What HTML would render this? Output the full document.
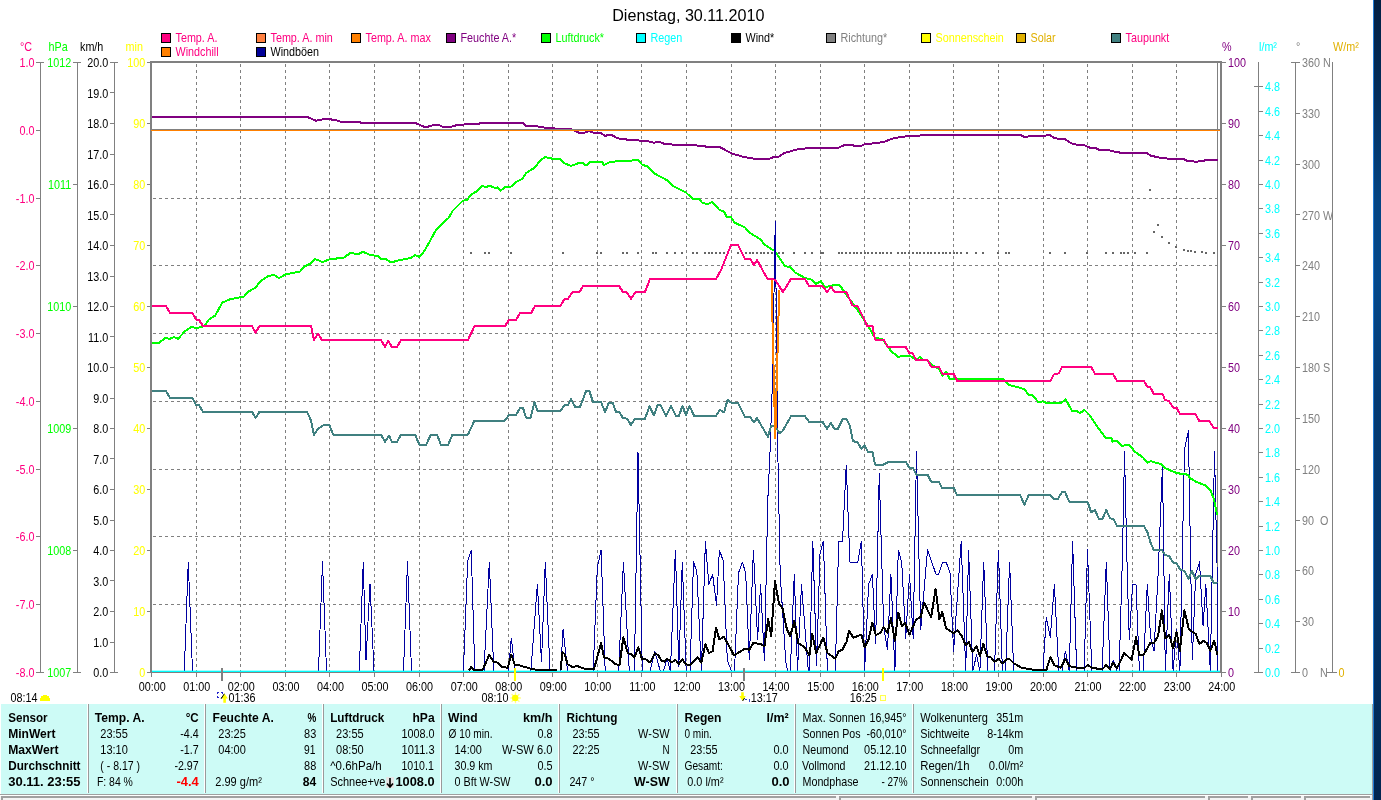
<!DOCTYPE html>
<html lang="de"><head><meta charset="utf-8"><title>Dienstag, 30.11.2010</title>
<style>html,body{margin:0;padding:0;background:#fff;overflow:hidden}svg{display:block;font-family:"Liberation Sans",sans-serif}text{white-space:pre}</style></head>
<body>
<svg width="1381" height="800" viewBox="0 0 1381 800" font-family="'Liberation Sans', sans-serif" font-size="13">
<defs><linearGradient id="deskv" x1="0" y1="0" x2="0" y2="1"><stop offset="0" stop-color="#021f42"/><stop offset="0.12" stop-color="#032e5c"/><stop offset="0.25" stop-color="#044482"/><stop offset="0.35" stop-color="#04488a"/><stop offset="0.5" stop-color="#043a72"/><stop offset="0.75" stop-color="#03356a"/><stop offset="1" stop-color="#02254f"/></linearGradient></defs>
<rect width="1381" height="800" fill="#fff"/>
<rect x="1373" y="0" width="8" height="800" fill="url(#deskv)" shape-rendering="crispEdges"/>
<rect x="1373" y="0" width="1" height="800" fill="#1f7ad4" shape-rendering="crispEdges"/>
<text x="612.2" y="21" fill="#000" font-size="16" textLength="152.3" lengthAdjust="spacingAndGlyphs">Dienstag, 30.11.2010</text>
<g shape-rendering="crispEdges" stroke="#000" stroke-width="1">
<rect x="161.5" y="33.5" width="9" height="9" fill="#ff0080"/>
<rect x="256.5" y="33.5" width="9" height="9" fill="#ff8040"/>
<rect x="351.5" y="33.5" width="9" height="9" fill="#ff8000"/>
<rect x="446.5" y="33.5" width="9" height="9" fill="#800080"/>
<rect x="541.5" y="33.5" width="9" height="9" fill="#00ff00"/>
<rect x="636.5" y="33.5" width="9" height="9" fill="#00ffff"/>
<rect x="731.5" y="33.5" width="9" height="9" fill="#000"/>
<rect x="826.5" y="33.5" width="9" height="9" fill="#808080"/>
<rect x="921.5" y="33.5" width="9" height="9" fill="#ffff00"/>
<rect x="1016.5" y="33.5" width="9" height="9" fill="#e0b000"/>
<rect x="1111.5" y="33.5" width="9" height="9" fill="#408080"/>
<rect x="161.5" y="47.5" width="9" height="9" fill="#ff8000"/>
<rect x="256.5" y="47.5" width="9" height="9" fill="#000098"/>
</g>
<text transform="translate(175.5 42) scale(0.83 1)" fill="#ff0080" font-size="13">Temp. A.</text>
<text transform="translate(270.5 42) scale(0.83 1)" fill="#ff0080" font-size="13">Temp. A. min</text>
<text transform="translate(365.5 42) scale(0.83 1)" fill="#ff0080" font-size="13">Temp. A. max</text>
<text transform="translate(460.5 42) scale(0.83 1)" fill="#800080" font-size="13">Feuchte A.*</text>
<text transform="translate(555.5 42) scale(0.83 1)" fill="#00ff00" font-size="13">Luftdruck*</text>
<text transform="translate(650.5 42) scale(0.83 1)" fill="#00ffff" font-size="13">Regen</text>
<text transform="translate(745.5 42) scale(0.83 1)" fill="#000" font-size="13">Wind*</text>
<text transform="translate(840.5 42) scale(0.83 1)" fill="#808080" font-size="13">Richtung*</text>
<text transform="translate(935.5 42) scale(0.83 1)" fill="#ffff00" font-size="13">Sonnenschein</text>
<text transform="translate(1030.5 42) scale(0.83 1)" fill="#e0b000" font-size="13">Solar</text>
<text transform="translate(1125.5 42) scale(0.83 1)" fill="#ff0080" font-size="13">Taupunkt</text>
<text transform="translate(175.5 56) scale(0.83 1)" fill="#ff0080" font-size="13">Windchill</text>
<text transform="translate(270.5 56) scale(0.83 1)" fill="#000" font-size="13">Windböen</text>
<g shape-rendering="crispEdges" stroke="#808080" stroke-width="1" stroke-dasharray="3,3" fill="none">
<path d="M196.5 64V671"/>
<path d="M240.5 64V671"/>
<path d="M285.5 64V671"/>
<path d="M329.5 64V671"/>
<path d="M374.5 64V671"/>
<path d="M419.5 64V671"/>
<path d="M463.5 64V671"/>
<path d="M508.5 64V671"/>
<path d="M552.5 64V671"/>
<path d="M597.5 64V671"/>
<path d="M641.5 64V671"/>
<path d="M686.5 64V671"/>
<path d="M731.5 64V671"/>
<path d="M775.5 64V671"/>
<path d="M820.5 64V671"/>
<path d="M864.5 64V671"/>
<path d="M909.5 64V671"/>
<path d="M953.5 64V671"/>
<path d="M998.5 64V671"/>
<path d="M1043.5 64V671"/>
<path d="M1087.5 64V671"/>
<path d="M1132.5 64V671"/>
<path d="M1176.5 64V671"/>
<path d="M153 198.5H1218"/>
<path d="M153 265.5H1218"/>
<path d="M153 333.5H1218"/>
<path d="M153 401.5H1218"/>
<path d="M153 469.5H1218"/>
<path d="M153 536.5H1218"/>
<path d="M153 604.5H1218"/>
<path d="M153 672.5H1218"/>
</g>
<g shape-rendering="crispEdges" stroke="#808080" stroke-width="1" fill="none">
<path d="M40.5 62V672"/>
<path d="M36.0 62.5H44.0M36.0 672.5H44.0"/>
<path d="M77.5 62V672"/>
<path d="M73.0 62.5H81.0M73.0 672.5H81.0"/>
<path d="M114.5 62V672"/>
<path d="M110.0 62.5H118.0M110.0 672.5H118.0"/>
<path d="M36 130.5H40"/>
<path d="M36 198.5H40"/>
<path d="M36 265.5H40"/>
<path d="M36 333.5H40"/>
<path d="M36 401.5H40"/>
<path d="M36 469.5H40"/>
<path d="M36 536.5H40"/>
<path d="M36 604.5H40"/>
<path d="M73 184.5H77"/>
<path d="M73 306.5H77"/>
<path d="M73 428.5H77"/>
<path d="M73 550.5H77"/>
<path d="M110 92.5H114"/>
<path d="M110 123.5H114"/>
<path d="M110 154.5H114"/>
<path d="M110 184.5H114"/>
<path d="M110 214.5H114"/>
<path d="M110 245.5H114"/>
<path d="M110 276.5H114"/>
<path d="M110 306.5H114"/>
<path d="M110 336.5H114"/>
<path d="M110 367.5H114"/>
<path d="M110 398.5H114"/>
<path d="M110 428.5H114"/>
<path d="M110 458.5H114"/>
<path d="M110 489.5H114"/>
<path d="M110 520.5H114"/>
<path d="M110 550.5H114"/>
<path d="M110 580.5H114"/>
<path d="M110 611.5H114"/>
<path d="M110 642.5H114"/>
<path d="M147 62.5H151"/>
<path d="M147 123.5H151"/>
<path d="M147 184.5H151"/>
<path d="M147 245.5H151"/>
<path d="M147 306.5H151"/>
<path d="M147 367.5H151"/>
<path d="M147 428.5H151"/>
<path d="M147 489.5H151"/>
<path d="M147 550.5H151"/>
<path d="M147 611.5H151"/>
<path d="M147 672.5H151"/>
<path d="M151.5 673V677"/>
<path d="M196.5 673V677"/>
<path d="M240.5 673V677"/>
<path d="M285.5 673V677"/>
<path d="M329.5 673V677"/>
<path d="M374.5 673V677"/>
<path d="M419.5 673V677"/>
<path d="M463.5 673V677"/>
<path d="M508.5 673V677"/>
<path d="M552.5 673V677"/>
<path d="M597.5 673V677"/>
<path d="M641.5 673V677"/>
<path d="M686.5 673V677"/>
<path d="M731.5 673V677"/>
<path d="M775.5 673V677"/>
<path d="M820.5 673V677"/>
<path d="M864.5 673V677"/>
<path d="M909.5 673V677"/>
<path d="M953.5 673V677"/>
<path d="M998.5 673V677"/>
<path d="M1043.5 673V677"/>
<path d="M1087.5 673V677"/>
<path d="M1132.5 673V677"/>
<path d="M1176.5 673V677"/>
<path d="M1221.5 673V677"/>
</g>
<text transform="translate(20 51) scale(0.83 1)" fill="#ff0080" font-size="13">°C</text>
<text transform="translate(48.5 51) scale(0.83 1)" fill="#00ff00" font-size="13">hPa</text>
<text transform="translate(80 51) scale(0.83 1)" fill="#000" font-size="13">km/h</text>
<text transform="translate(125.5 51) scale(0.83 1)" fill="#ffff00" font-size="13">min</text>
<text transform="translate(34.4 67.0) scale(0.83 1)" fill="#ff0080" font-size="13" text-anchor="end">1.0</text>
<text transform="translate(34.4 134.8) scale(0.83 1)" fill="#ff0080" font-size="13" text-anchor="end">0.0</text>
<text transform="translate(34.4 202.6) scale(0.83 1)" fill="#ff0080" font-size="13" text-anchor="end">-1.0</text>
<text transform="translate(34.4 270.3) scale(0.83 1)" fill="#ff0080" font-size="13" text-anchor="end">-2.0</text>
<text transform="translate(34.4 338.1) scale(0.83 1)" fill="#ff0080" font-size="13" text-anchor="end">-3.0</text>
<text transform="translate(34.4 405.9) scale(0.83 1)" fill="#ff0080" font-size="13" text-anchor="end">-4.0</text>
<text transform="translate(34.4 473.7) scale(0.83 1)" fill="#ff0080" font-size="13" text-anchor="end">-5.0</text>
<text transform="translate(34.4 541.4) scale(0.83 1)" fill="#ff0080" font-size="13" text-anchor="end">-6.0</text>
<text transform="translate(34.4 609.2) scale(0.83 1)" fill="#ff0080" font-size="13" text-anchor="end">-7.0</text>
<text transform="translate(34.4 677.0) scale(0.83 1)" fill="#ff0080" font-size="13" text-anchor="end">-8.0</text>
<text transform="translate(71.3 67.0) scale(0.83 1)" fill="#00ff00" font-size="13" text-anchor="end">1012</text>
<text transform="translate(71.3 189.0) scale(0.83 1)" fill="#00ff00" font-size="13" text-anchor="end">1011</text>
<text transform="translate(71.3 311.0) scale(0.83 1)" fill="#00ff00" font-size="13" text-anchor="end">1010</text>
<text transform="translate(71.3 433.0) scale(0.83 1)" fill="#00ff00" font-size="13" text-anchor="end">1009</text>
<text transform="translate(71.3 555.0) scale(0.83 1)" fill="#00ff00" font-size="13" text-anchor="end">1008</text>
<text transform="translate(71.3 677.0) scale(0.83 1)" fill="#00ff00" font-size="13" text-anchor="end">1007</text>
<text transform="translate(108.3 67.0) scale(0.83 1)" fill="#000" font-size="13" text-anchor="end">20.0</text>
<text transform="translate(108.3 97.5) scale(0.83 1)" fill="#000" font-size="13" text-anchor="end">19.0</text>
<text transform="translate(108.3 128.0) scale(0.83 1)" fill="#000" font-size="13" text-anchor="end">18.0</text>
<text transform="translate(108.3 158.5) scale(0.83 1)" fill="#000" font-size="13" text-anchor="end">17.0</text>
<text transform="translate(108.3 189.0) scale(0.83 1)" fill="#000" font-size="13" text-anchor="end">16.0</text>
<text transform="translate(108.3 219.5) scale(0.83 1)" fill="#000" font-size="13" text-anchor="end">15.0</text>
<text transform="translate(108.3 250.0) scale(0.83 1)" fill="#000" font-size="13" text-anchor="end">14.0</text>
<text transform="translate(108.3 280.5) scale(0.83 1)" fill="#000" font-size="13" text-anchor="end">13.0</text>
<text transform="translate(108.3 311.0) scale(0.83 1)" fill="#000" font-size="13" text-anchor="end">12.0</text>
<text transform="translate(108.3 341.5) scale(0.83 1)" fill="#000" font-size="13" text-anchor="end">11.0</text>
<text transform="translate(108.3 372.0) scale(0.83 1)" fill="#000" font-size="13" text-anchor="end">10.0</text>
<text transform="translate(108.3 402.5) scale(0.83 1)" fill="#000" font-size="13" text-anchor="end">9.0</text>
<text transform="translate(108.3 433.0) scale(0.83 1)" fill="#000" font-size="13" text-anchor="end">8.0</text>
<text transform="translate(108.3 463.5) scale(0.83 1)" fill="#000" font-size="13" text-anchor="end">7.0</text>
<text transform="translate(108.3 494.0) scale(0.83 1)" fill="#000" font-size="13" text-anchor="end">6.0</text>
<text transform="translate(108.3 524.5) scale(0.83 1)" fill="#000" font-size="13" text-anchor="end">5.0</text>
<text transform="translate(108.3 555.0) scale(0.83 1)" fill="#000" font-size="13" text-anchor="end">4.0</text>
<text transform="translate(108.3 585.5) scale(0.83 1)" fill="#000" font-size="13" text-anchor="end">3.0</text>
<text transform="translate(108.3 616.0) scale(0.83 1)" fill="#000" font-size="13" text-anchor="end">2.0</text>
<text transform="translate(108.3 646.5) scale(0.83 1)" fill="#000" font-size="13" text-anchor="end">1.0</text>
<text transform="translate(108.3 677.0) scale(0.83 1)" fill="#000" font-size="13" text-anchor="end">0.0</text>
<text transform="translate(145.2 67.0) scale(0.83 1)" fill="#ffff00" font-size="13" text-anchor="end">100</text>
<text transform="translate(145.2 128.0) scale(0.83 1)" fill="#ffff00" font-size="13" text-anchor="end">90</text>
<text transform="translate(145.2 189.0) scale(0.83 1)" fill="#ffff00" font-size="13" text-anchor="end">80</text>
<text transform="translate(145.2 250.0) scale(0.83 1)" fill="#ffff00" font-size="13" text-anchor="end">70</text>
<text transform="translate(145.2 311.0) scale(0.83 1)" fill="#ffff00" font-size="13" text-anchor="end">60</text>
<text transform="translate(145.2 372.0) scale(0.83 1)" fill="#ffff00" font-size="13" text-anchor="end">50</text>
<text transform="translate(145.2 433.0) scale(0.83 1)" fill="#ffff00" font-size="13" text-anchor="end">40</text>
<text transform="translate(145.2 494.0) scale(0.83 1)" fill="#ffff00" font-size="13" text-anchor="end">30</text>
<text transform="translate(145.2 555.0) scale(0.83 1)" fill="#ffff00" font-size="13" text-anchor="end">20</text>
<text transform="translate(145.2 616.0) scale(0.83 1)" fill="#ffff00" font-size="13" text-anchor="end">10</text>
<text transform="translate(145.2 677.0) scale(0.83 1)" fill="#ffff00" font-size="13" text-anchor="end">0</text>
<g shape-rendering="crispEdges" stroke="#808080" stroke-width="1" fill="none">
<path d="M1222 62.5H1226"/>
<path d="M1222 123.5H1226"/>
<path d="M1222 184.5H1226"/>
<path d="M1222 245.5H1226"/>
<path d="M1222 306.5H1226"/>
<path d="M1222 367.5H1226"/>
<path d="M1222 428.5H1226"/>
<path d="M1222 489.5H1226"/>
<path d="M1222 550.5H1226"/>
<path d="M1222 611.5H1226"/>
<path d="M1222 672.5H1226"/>
<path d="M1258.5 62V672M1254 672.5H1263M1254 86.5H1259"/>
<path d="M1259 648.5H1263"/>
<path d="M1259 623.5H1263"/>
<path d="M1259 599.5H1263"/>
<path d="M1259 574.5H1263"/>
<path d="M1259 550.5H1263"/>
<path d="M1259 526.5H1263"/>
<path d="M1259 501.5H1263"/>
<path d="M1259 477.5H1263"/>
<path d="M1259 452.5H1263"/>
<path d="M1259 428.5H1263"/>
<path d="M1259 404.5H1263"/>
<path d="M1259 379.5H1263"/>
<path d="M1259 355.5H1263"/>
<path d="M1259 330.5H1263"/>
<path d="M1259 306.5H1263"/>
<path d="M1259 282.5H1263"/>
<path d="M1259 257.5H1263"/>
<path d="M1259 233.5H1263"/>
<path d="M1259 208.5H1263"/>
<path d="M1259 184.5H1263"/>
<path d="M1259 160.5H1263"/>
<path d="M1259 135.5H1263"/>
<path d="M1259 111.5H1263"/>
<path d="M1259 86.5H1263"/>
<path d="M1295.5 62V672M1291 62.5H1300M1291 672.5H1300"/>
<path d="M1296 113.5H1300"/>
<path d="M1296 164.5H1300"/>
<path d="M1296 214.5H1300"/>
<path d="M1296 265.5H1300"/>
<path d="M1296 316.5H1300"/>
<path d="M1296 367.5H1300"/>
<path d="M1296 418.5H1300"/>
<path d="M1296 469.5H1300"/>
<path d="M1296 520.5H1300"/>
<path d="M1296 570.5H1300"/>
<path d="M1296 621.5H1300"/>
<path d="M1332.5 62V672M1327 672.5H1337"/>
</g>
<text transform="translate(1222 51) scale(0.83 1)" fill="#800080" font-size="13">%</text>
<text transform="translate(1259 51) scale(0.83 1)" fill="#00ffff" font-size="13">l/m²</text>
<text transform="translate(1296 51) scale(0.83 1)" fill="#808080" font-size="13">°</text>
<text transform="translate(1333 51) scale(0.83 1)" fill="#e0b000" font-size="13">W/m²</text>
<text transform="translate(1228 67.0) scale(0.83 1)" fill="#800080" font-size="13">100</text>
<text transform="translate(1228 128.0) scale(0.83 1)" fill="#800080" font-size="13">90</text>
<text transform="translate(1228 189.0) scale(0.83 1)" fill="#800080" font-size="13">80</text>
<text transform="translate(1228 250.0) scale(0.83 1)" fill="#800080" font-size="13">70</text>
<text transform="translate(1228 311.0) scale(0.83 1)" fill="#800080" font-size="13">60</text>
<text transform="translate(1228 372.0) scale(0.83 1)" fill="#800080" font-size="13">50</text>
<text transform="translate(1228 433.0) scale(0.83 1)" fill="#800080" font-size="13">40</text>
<text transform="translate(1228 494.0) scale(0.83 1)" fill="#800080" font-size="13">30</text>
<text transform="translate(1228 555.0) scale(0.83 1)" fill="#800080" font-size="13">20</text>
<text transform="translate(1228 616.0) scale(0.83 1)" fill="#800080" font-size="13">10</text>
<text transform="translate(1228 677.0) scale(0.83 1)" fill="#800080" font-size="13">0</text>
<text transform="translate(1265 677.0) scale(0.83 1)" fill="#00ffff" font-size="13">0.0</text>
<text transform="translate(1265 652.6) scale(0.83 1)" fill="#00ffff" font-size="13">0.2</text>
<text transform="translate(1265 628.2) scale(0.83 1)" fill="#00ffff" font-size="13">0.4</text>
<text transform="translate(1265 603.8) scale(0.83 1)" fill="#00ffff" font-size="13">0.6</text>
<text transform="translate(1265 579.4) scale(0.83 1)" fill="#00ffff" font-size="13">0.8</text>
<text transform="translate(1265 555.0) scale(0.83 1)" fill="#00ffff" font-size="13">1.0</text>
<text transform="translate(1265 530.6) scale(0.83 1)" fill="#00ffff" font-size="13">1.2</text>
<text transform="translate(1265 506.2) scale(0.83 1)" fill="#00ffff" font-size="13">1.4</text>
<text transform="translate(1265 481.8) scale(0.83 1)" fill="#00ffff" font-size="13">1.6</text>
<text transform="translate(1265 457.4) scale(0.83 1)" fill="#00ffff" font-size="13">1.8</text>
<text transform="translate(1265 433.0) scale(0.83 1)" fill="#00ffff" font-size="13">2.0</text>
<text transform="translate(1265 408.6) scale(0.83 1)" fill="#00ffff" font-size="13">2.2</text>
<text transform="translate(1265 384.2) scale(0.83 1)" fill="#00ffff" font-size="13">2.4</text>
<text transform="translate(1265 359.8) scale(0.83 1)" fill="#00ffff" font-size="13">2.6</text>
<text transform="translate(1265 335.4) scale(0.83 1)" fill="#00ffff" font-size="13">2.8</text>
<text transform="translate(1265 311.0) scale(0.83 1)" fill="#00ffff" font-size="13">3.0</text>
<text transform="translate(1265 286.6) scale(0.83 1)" fill="#00ffff" font-size="13">3.2</text>
<text transform="translate(1265 262.2) scale(0.83 1)" fill="#00ffff" font-size="13">3.4</text>
<text transform="translate(1265 237.8) scale(0.83 1)" fill="#00ffff" font-size="13">3.6</text>
<text transform="translate(1265 213.4) scale(0.83 1)" fill="#00ffff" font-size="13">3.8</text>
<text transform="translate(1265 189.0) scale(0.83 1)" fill="#00ffff" font-size="13">4.0</text>
<text transform="translate(1265 164.6) scale(0.83 1)" fill="#00ffff" font-size="13">4.2</text>
<text transform="translate(1265 140.2) scale(0.83 1)" fill="#00ffff" font-size="13">4.4</text>
<text transform="translate(1265 115.8) scale(0.83 1)" fill="#00ffff" font-size="13">4.6</text>
<text transform="translate(1265 91.4) scale(0.83 1)" fill="#00ffff" font-size="13">4.8</text>
<text transform="translate(1302 67.0) scale(0.83 1)" fill="#808080" font-size="13">360 N</text>
<text transform="translate(1302 117.8) scale(0.83 1)" fill="#808080" font-size="13">330</text>
<text transform="translate(1302 168.7) scale(0.83 1)" fill="#808080" font-size="13">300</text>
<text transform="translate(1302 219.5) scale(0.83 1)" fill="#808080" font-size="13">270 W</text>
<text transform="translate(1302 270.3) scale(0.83 1)" fill="#808080" font-size="13">240</text>
<text transform="translate(1302 321.2) scale(0.83 1)" fill="#808080" font-size="13">210</text>
<text transform="translate(1302 372.0) scale(0.83 1)" fill="#808080" font-size="13">180 S</text>
<text transform="translate(1302 422.8) scale(0.83 1)" fill="#808080" font-size="13">150</text>
<text transform="translate(1302 473.7) scale(0.83 1)" fill="#808080" font-size="13">120</text>
<text transform="translate(1302 524.5) scale(0.83 1)" fill="#808080" font-size="13">90</text>
<text transform="translate(1302 575.3) scale(0.83 1)" fill="#808080" font-size="13">60</text>
<text transform="translate(1302 626.2) scale(0.83 1)" fill="#808080" font-size="13">30</text>
<text transform="translate(1302 677.0) scale(0.83 1)" fill="#808080" font-size="13">0</text>
<text transform="translate(1320 677) scale(0.83 1)" fill="#808080" font-size="13">N</text>
<text transform="translate(1320 524.5) scale(0.83 1)" fill="#808080" font-size="13">O</text>
<text transform="translate(1338.5 677) scale(0.83 1)" fill="#e0b000" font-size="13">0</text>
<g shape-rendering="crispEdges" fill="#808080">
<rect x="150" y="61" width="1072" height="2"/>
<rect x="150" y="61" width="2" height="612"/>
<rect x="1220" y="61" width="2" height="612"/>
<rect x="1217" y="63" width="1" height="609"/>
</g>
<g shape-rendering="crispEdges" fill="none" stroke-linejoin="round">
<path d="M470 252h2v2h-2zM484 252h2v2h-2zM488 252h2v2h-2zM510 252h2v2h-2zM562 252h2v2h-2zM596 252h2v2h-2zM600 252h2v2h-2zM622 252h2v2h-2zM626 252h2v2h-2zM637 252h2v2h-2zM652 252h2v2h-2zM655 252h2v2h-2zM666 252h2v2h-2zM674 252h2v2h-2zM681 252h2v2h-2zM692 252h2v2h-2zM696 252h2v2h-2zM793 252h2v2h-2zM804 252h2v2h-2zM811 252h2v2h-2zM820 252h2v2h-2zM822 252h2v2h-2zM966 252h2v2h-2zM975 252h2v2h-2zM982 252h2v2h-2zM997 252h2v2h-2zM1005 252h2v2h-2zM1008 252h2v2h-2zM1049 252h2v2h-2zM1064 252h2v2h-2zM1086 252h2v2h-2zM1105 252h2v2h-2zM1112 252h2v2h-2zM1120 252h2v2h-2zM1123 252h2v2h-2zM1127 252h2v2h-2zM1134 252h2v2h-2zM1146 252h2v2h-2zM704 252h2v2h-2zM708 252h2v2h-2zM711 252h2v2h-2zM715 252h2v2h-2zM719 252h2v2h-2zM723 252h2v2h-2zM737 252h2v2h-2zM741 252h2v2h-2zM745 252h2v2h-2zM749 252h2v2h-2zM752 252h2v2h-2zM756 252h2v2h-2zM760 252h2v2h-2zM763 252h2v2h-2zM767 252h2v2h-2zM771 252h2v2h-2zM775 252h2v2h-2zM778 252h2v2h-2zM782 252h2v2h-2zM838 252h2v2h-2zM841 252h2v2h-2zM845 252h2v2h-2zM849 252h2v2h-2zM853 252h2v2h-2zM856 252h2v2h-2zM860 252h2v2h-2zM864 252h2v2h-2zM867 252h2v2h-2zM871 252h2v2h-2zM875 252h2v2h-2zM879 252h2v2h-2zM882 252h2v2h-2zM886 252h2v2h-2zM890 252h2v2h-2zM897 252h2v2h-2zM901 252h2v2h-2zM904 252h2v2h-2zM908 252h2v2h-2zM912 252h2v2h-2zM916 252h2v2h-2zM919 252h2v2h-2zM923 252h2v2h-2zM927 252h2v2h-2zM930 252h2v2h-2zM934 252h2v2h-2zM938 252h2v2h-2zM942 252h2v2h-2zM945 252h2v2h-2zM949 252h2v2h-2zM953 252h2v2h-2zM956 252h2v2h-2zM960 252h2v2h-2zM1149 189h2v2h-2zM1157 224h2v2h-2zM1153 231h2v2h-2zM1161 236h2v2h-2zM1168 242h2v2h-2zM1175 246h2v2h-2zM1183 249h2v2h-2zM1187 250h2v2h-2zM1190 250h2v2h-2zM1194 251h2v2h-2zM1201 251h2v2h-2zM1205 252h2v2h-2zM1213 252h2v2h-2z" fill="#666" stroke="none"/>
<polyline points="152,671 184.3,671 188.25,562 192.5,671 318.5,671 322.5,562 326.5,671 359.3,671 363.25,562 366,660 370,583.75 374,671 403.5,671 407.5,562 411.5,671 463.4,671 467.7,561 471.25,550 474.8,671 484,671 489.3,562 493.8,671 508.4,671 511.3,638 515.1,671 530.9,671 537.4,584 541.5,662 545.3,562 550,671 560.6,671 563.1,629 567.6,671 593.2,671 597.3,567.5 601.1,550 605.2,671 618.7,671 623.4,562 629.3,671 634.4,671 638,452 642.3,671 650.2,671 654.7,651.3 660.3,671 663.5,671 667,658.7 670.4,671 675.4,550 678.8,666.5 682.3,562 686.2,671 690,671 693.5,562 696.9,572 701.4,671 705.4,541 708.8,584.4 712.6,574.3 716.5,605.3 719.4,550 723.2,560.8 727.3,659.8 731.3,671 734.5,671 738.5,573 742.3,562 745.7,573 749.3,659.8 753.4,550 757.6,639.5 760.6,584.4 764.4,661 767.8,500 770,452.5 772.5,380 775.25,221 778,462 780.2,574 785.8,662 787.6,671 790.3,671 794.3,574.3 797.5,671 801.5,584.4 808.3,671 809.5,671 812.8,541 816.6,665.4 820,554 823.4,541 827.4,671 835.3,671 838.7,541 842.5,541 846.25,465 849.9,562 857.8,562 861.4,541 864.6,671 868.6,584.4 872.4,574.3 875.6,644 879.25,473.75 883.7,627 887.5,649.7 890.9,574.3 894.9,671 898.3,550 901.7,562 905.7,638.4 909.5,574.3 913.2,638.4 916.5,452 920.7,629.4 927.5,550 936,574.3 938.7,574.3 942.8,562 946.1,562 950,573 953.6,651.2 961.2,541 965.7,671 968.6,550 972.8,671 976.5,655 979.9,671 983.7,562 987.8,671 994.5,671 998.4,550 1002.4,671 1005.6,671 1009.6,562 1013.7,671 1042.9,671 1046.3,617 1050.3,637.3 1054.4,584 1058.7,671 1062,671 1065.4,651.2 1069.3,671 1072.6,541 1076.7,671 1084.1,671 1087.5,550 1091.8,671 1102.1,671 1106.3,562 1110.1,671 1113.2,660 1116.9,671 1119.1,671 1122.5,554 1124.5,452 1127.5,583 1129.3,639.5 1132.6,584.4 1136,584.4 1139.4,671 1143.2,671 1147.3,584.4 1150.6,637.3 1154,651.2 1158.1,574.3 1162.5,465.3 1165.3,671 1169.3,574.3 1173.1,671 1176.5,629.4 1179.9,671 1184.5,449.5 1188.4,431 1192.3,659.8 1195.7,574.3 1199.5,562 1203.1,626 1205.8,584.4 1210.3,671 1214.5,451.8 1217,563 1217.5,671" stroke="#0000a0" stroke-width="1"/>
<polyline points="152,391 166,391 170,397.75 192.5,397.75 196,405 199,405 203,411.75 252,411.75 255.5,418 259.5,411.75 307,411.75 311,420.5 314,435 318,428.75 324,425 329.5,425 333,434.5 381,434.5 385,442 389,435.5 392,442 397,442 401,434.5 415,434.5 419.5,445 426,445 431,434.5 437,434.5 441,445 448,445 452.5,434.5 468,434.5 474.5,420.5 495,420.5 505,420.5 509,415 516,415 520,408 523,408 526,417.5 530.5,417.5 534.5,402.5 537.5,411 560.5,411 564.5,405 568,405 571,399 575.5,407.5 580,407 586,391.25 589.5,391.25 593,402 601,402 605,412 609,402.5 612.5,402.5 616,411.75 619,411.75 623,418 627,418.75 631,425 635,418.75 645,418.75 649.5,406.25 654,415.5 657.5,405 660.5,405 666,415.75 671,406.25 676,415.75 679,415.75 682.5,405.75 686,415.5 689.5,405.75 694,415.75 716,415.75 720,410 724,412.5 727.5,400 731,402.5 738,403 745,417 750,417 754,422.5 757,418 768,437 771,426.25 775,425.75 779.5,433.25 782.5,431.25 791,416.25 805,416.25 809,421.75 822.5,421.75 827,428.75 830.75,423 834.5,428.75 838,428.75 843,418.75 846.25,418.75 850,426.25 853,441.25 857.5,442 861.25,448.75 864.5,445.5 868,452 872.5,452.5 875,464.5 883.75,464.5 888.75,461.75 905.75,461.75 909.25,467.5 913,468 916.25,474.5 927.5,474.5 931.25,481.75 938.75,481.75 942,488 953.75,488 957,495 1020,495 1024.5,504.5 1028.75,495 1050,495 1053.75,498.75 1058,498.75 1062,492 1065,492 1069.25,501.75 1087.5,501.75 1091.25,512.5 1095,510 1098.75,518.75 1102.5,518.75 1106.25,510 1110,518.25 1113.75,519.5 1117,525.75 1143.75,525.75 1147.5,532.5 1150.5,542.5 1153.75,550 1162,550 1165.3,555.1 1169.3,556.3 1173.1,562.6 1176.5,563 1179.9,569.3 1184.4,570.9 1188.5,579.2 1191.8,570.9 1195.7,579.2 1199.5,575.8 1210.3,575.8 1213.7,582.8 1217.5,583.3" stroke="#408080" stroke-width="2"/>
<polyline points="152,117 307.5,117 316,120.75 326,118.75 335,120 341,121.75 359,122 361,122.75 415,122.75 424,126.75 427.5,126.75 434,125 439,125 442.5,126.75 451,126.75 457.5,125 464,124.5 479,123.75 481,122.75 495,122.75 522.5,122.75 526,125.75 536,126.25 546,127.75 557.5,128.75 571,129.25 579,132.75 584,132.75 589,131.25 594,132.75 600,132.75 605,135.75 611,134.75 617.5,138.25 630,140 647.5,141 654,142.75 659,141.75 664,143.75 675,144.75 695,145.25 707.5,146.75 720,147.25 732.5,153.75 745,157.25 755,158.75 769,158.75 774,157 779,156.5 785,152.75 799,149 811,148 837.5,148 840,147 844,145.25 852.5,145.25 855,146 861,146 865,144 872.5,143.5 884,142 891,139 900,137 912.5,135.75 927.5,135.25 930,134.75 1020,134.75 1024,136.75 1027.5,136.75 1030,135.75 1045,135.75 1049,134.75 1054,137.75 1059,139 1065,139 1071,143.25 1077.5,145 1084,145 1090,147.75 1095,147.75 1099,149.75 1107.5,149.75 1115,151.75 1121,152.75 1146,152.75 1151,155.75 1159,157.5 1169,158.75 1183.5,159 1187,160.75 1196,161.75 1201,161.25 1207,160 1217.5,160" stroke="#800080" stroke-width="2"/>
<path d="M151 129.5H1220" stroke="#808080" stroke-width="1"/>
<path d="M151 130.5H1220" stroke="#ff8000" stroke-width="1"/>
<polyline points="152,343 159,343 165,338 170,338.75 174,337 178,338.75 185,331.25 191,327 197.5,328 204,326.25 209,319.5 215,315.75 222.5,302.5 230,299.25 244,296.5 249,291.25 255,288 261,280.75 269,275.75 274,275 279,278 286,274.25 300,271.5 305,266.25 311,263.25 315,259 322.5,262 329,259.5 344,257.5 351,252.5 357.5,254.5 363,251.75 369,254.5 378,256.25 381,259.5 385.5,258.75 391,262.5 400,260 411,258 415,255 419.5,257 425,250 436,230 449,217.5 452.5,211 462.5,201 467.5,199.5 471,194.5 477.5,191 482,186 486,187 490,185.75 495,188 497.5,187.5 500.5,190.75 505,187 510.5,187 516,182 522.5,178.75 526,173 535,167.5 539,161.75 545,157 552.5,158.75 560.5,159.25 564,163 571,166 579,163 582.5,163 586,165.5 589.5,162.5 602,162 604,165 610,162 620,161 638,160.25 642.5,165 647.5,166.25 655,173.75 667.5,180.5 672.5,185.75 686,192.5 692.5,198.75 699,199.25 702.5,203 707.5,204 712.5,202 719,209.5 724,211.75 727,217.5 731,217 734.5,222.5 745,227.5 750,233 760,239 765,245 775,251.25 785,266.25 790,267 795,272.5 805,278 811,279.5 816,283.75 821,281.25 825,287 830,286.25 834,285 839.5,285 847.5,296.25 857.5,310 867.5,325 875,338 882.5,339 891.25,351.25 898,356.75 909.25,355.5 916.25,360 920,356.75 923,360 927.5,360 933.75,366.25 938.75,368.75 942.5,375.75 946.25,372 950,379.5 957,378.75 1002.5,378.75 1008.75,385 1017.5,387 1024.5,389.5 1028.75,395 1032.5,395.5 1038.75,402.5 1042.5,401.25 1046.25,402.75 1061.25,402.75 1065.75,399.5 1072,410.75 1076.25,410.75 1080,413 1084.5,410 1089.5,415 1094.5,422.5 1100,430.4 1105.8,437.8 1111.4,438.3 1112.5,441.6 1117,440.5 1121.5,445.7 1129.4,445 1135,451.8 1142.9,457.4 1147.4,462.6 1150.8,461.2 1160.9,464.1 1165.4,468.2 1176.7,473.1 1187.9,474.7 1190.2,478.3 1196.9,482.2 1205.9,485.5 1210.4,490 1213.8,499 1217.2,514.8" stroke="#00ff00" stroke-width="2"/>
<polyline points="771.5,279 775.25,438 779.2,290" stroke="#ff8000" stroke-width="2"/>
<polyline points="152,306 166,306 170,313 192.5,313 196,319.5 199,320 203,326 252,326 255.5,332.5 259.5,326 311,326 314,340 318,333.75 322,340 381,340 385,347 388,340.75 392,347 397,347 401,340 468,340 474.5,326 495,326 505,326 509,320 516,320 520,313.25 531,313.25 535,306 560.5,306 564,299.5 568,299 572,292.5 579.5,292 583,286 619,286 623,292 627,292.5 631,299 635,292.5 645,292 650,279 716,279 721,270 731,245 738,245 745,258.75 750,258.75 754,265 757,260 767.5,279 774.5,279 783,292 791,279 805,279 809,286 822.5,286 827,292 831,287 834.5,292 840,292 846.25,292 852.5,305.5 857.5,306 867.5,326.25 872.5,326.25 875,339.5 883.75,339.5 887.5,347 905.75,347 909.25,353 912.5,353 916.25,360 927.5,360 931.25,366.75 938.75,366.75 942.5,373.75 953.75,373.75 957,380.75 1050.5,380.75 1053.75,374.5 1058.75,373.25 1062,367 1091.25,367 1095,374 1113,374 1117,380.75 1143.75,380.75 1147.5,387 1150,387 1153.75,393.75 1162.5,393.75 1165,400 1168.8,401 1173.3,407.9 1176.7,408 1180,414 1195.3,414 1199.2,420.9 1209.3,420.9 1213.8,428.1 1217.8,428.1" stroke="#ff0080" stroke-width="2"/>
<path d="M152 672.5H1220" stroke="#808080" stroke-width="1"/>
<path d="M152 671.5H1220" stroke="#00ffff" stroke-width="1"/>
<path d="M152 670.5H1220" stroke="#00ffff" stroke-width="1" stroke-opacity="0.35"/>
<polyline points="468.6,670.4 471.3,667 473.5,670 482.5,670 489.3,654.9 493.8,662 497.1,662.5 501.6,667 507.7,667.7 511.3,654.9 515.1,665.4 519.6,665.4 529.8,668.4 537.7,670 556.8,670.4" stroke="#000" stroke-width="2"/>
<polyline points="560.6,670.4 562.4,652 564.7,654.2 567.6,664.3 572.5,667 577,666 586,669.3 593.9,669.3 601.1,643 604,657.6 608.5,658.7 615.3,663.9 619.4,665.4 623.4,637.3 627.7,653 631,654.2 634.4,657.6 638.3,647.4 641.9,658.7 645.7,659.4 650.2,662.5 654.7,653.5 658.1,654.9 661.5,660.9 664.8,661.6 667,658.7 671.6,662.5 675.4,659.8 678.8,663.9 682.3,659.4 685.6,664.3 690.1,665 697.6,657.1 701.4,662.5 705.4,644 708.8,653 712.6,651.2 716,627.8 719.4,639.5 723.9,636.8 734,655.3 745.3,648.5 749.3,649.7 753.4,642.9 760.6,644 764.4,646.3 768.2,619.3 771.2,636.2 775,581 779,604 782.4,608 786.9,629.4 790.3,636.2 794.3,620.9 798.2,642.9 804.9,647.4 809.4,655.3 812.3,633.9 816.2,653 823.4,637.7 827.4,653 835.3,658.7 838.7,651.2 842.5,649.7 846.5,641.8 849.2,630.5 853.3,637.7 861.4,634.6 864.6,647.4 868.6,639.1 872.4,622.7 875.8,635 880.3,632.8 883.7,627.2 887.5,632.8 890.9,618.2 894.9,640.7 898.3,612.5 901.7,626 905,622.7 909.5,634.4 916.2,619.3 920.7,617 924.1,602.4 931.1,617.5 935.6,588.9 939.4,619.3 942.3,611.9 946.1,628.3 953.6,633.2 957.4,630.5 961.2,635 965.7,645.2 968.6,641.8 972.5,651.9 976.5,646.3 979.9,656.4 983.3,644 987.3,656.4 991.2,657.6 994.5,662 998.4,658.7 1002.4,663.2 1006.9,659.1 1009.6,659.1 1013.7,663.2 1021.5,667.7 1035,670 1046.3,670.4 1050.3,657.1 1054.4,665.4 1060.9,667.7 1065.4,658.7 1069.3,666.1 1076.7,667.7 1084.1,668.4 1087.5,665 1091.8,667.7 1102.1,669.5 1106.3,665 1110.1,668.8 1113.1,662.5 1116.9,668.4 1124.3,653 1131.5,659.8 1136,637.3 1139.4,655.3 1143.2,655.3 1150.6,642.5 1154,642.9 1158.1,636.2 1161.9,610.3 1165.3,638.4 1169.3,635 1173.1,648.5 1176.5,631.7 1179.9,650.8 1184.4,610.3 1188.9,629.4 1195.7,633.9 1199.5,644 1203.1,640.7 1206.9,642.9 1210.3,650.8 1214.3,640.7 1217.5,655.3" stroke="#000" stroke-width="2"/>
<polyline points="774.25,279 775.25,221 775.9,279" stroke="#0000a0" stroke-width="1"/>
</g>
<text transform="translate(152.2 691) scale(0.83 1)" fill="#000" font-size="13" text-anchor="middle">00:00</text>
<text transform="translate(196.8 691) scale(0.83 1)" fill="#000" font-size="13" text-anchor="middle">01:00</text>
<text transform="translate(241.3 691) scale(0.83 1)" fill="#000" font-size="13" text-anchor="middle">02:00</text>
<text transform="translate(285.9 691) scale(0.83 1)" fill="#000" font-size="13" text-anchor="middle">03:00</text>
<text transform="translate(330.5 691) scale(0.83 1)" fill="#000" font-size="13" text-anchor="middle">04:00</text>
<text transform="translate(375.0 691) scale(0.83 1)" fill="#000" font-size="13" text-anchor="middle">05:00</text>
<text transform="translate(419.6 691) scale(0.83 1)" fill="#000" font-size="13" text-anchor="middle">06:00</text>
<text transform="translate(464.2 691) scale(0.83 1)" fill="#000" font-size="13" text-anchor="middle">07:00</text>
<text transform="translate(508.7 691) scale(0.83 1)" fill="#000" font-size="13" text-anchor="middle">08:00</text>
<text transform="translate(553.3 691) scale(0.83 1)" fill="#000" font-size="13" text-anchor="middle">09:00</text>
<text transform="translate(597.8 691) scale(0.83 1)" fill="#000" font-size="13" text-anchor="middle">10:00</text>
<text transform="translate(642.4 691) scale(0.83 1)" fill="#000" font-size="13" text-anchor="middle">11:00</text>
<text transform="translate(687.0 691) scale(0.83 1)" fill="#000" font-size="13" text-anchor="middle">12:00</text>
<text transform="translate(731.5 691) scale(0.83 1)" fill="#000" font-size="13" text-anchor="middle">13:00</text>
<text transform="translate(776.1 691) scale(0.83 1)" fill="#000" font-size="13" text-anchor="middle">14:00</text>
<text transform="translate(820.7 691) scale(0.83 1)" fill="#000" font-size="13" text-anchor="middle">15:00</text>
<text transform="translate(865.2 691) scale(0.83 1)" fill="#000" font-size="13" text-anchor="middle">16:00</text>
<text transform="translate(909.8 691) scale(0.83 1)" fill="#000" font-size="13" text-anchor="middle">17:00</text>
<text transform="translate(954.4 691) scale(0.83 1)" fill="#000" font-size="13" text-anchor="middle">18:00</text>
<text transform="translate(998.9 691) scale(0.83 1)" fill="#000" font-size="13" text-anchor="middle">19:00</text>
<text transform="translate(1043.5 691) scale(0.83 1)" fill="#000" font-size="13" text-anchor="middle">20:00</text>
<text transform="translate(1088.1 691) scale(0.83 1)" fill="#000" font-size="13" text-anchor="middle">21:00</text>
<text transform="translate(1132.6 691) scale(0.83 1)" fill="#000" font-size="13" text-anchor="middle">22:00</text>
<text transform="translate(1177.2 691) scale(0.83 1)" fill="#000" font-size="13" text-anchor="middle">23:00</text>
<text transform="translate(1221.8 691) scale(0.83 1)" fill="#000" font-size="13" text-anchor="middle">24:00</text>
<g shape-rendering="crispEdges">
<rect x="221" y="668" width="2" height="13" fill="#808080"/>
<rect x="514" y="668" width="2" height="13" fill="#ffff00"/>
<rect x="743" y="668" width="2" height="13" fill="#808080"/>
<rect x="882" y="668" width="2" height="13" fill="#ffff00"/>
</g>
<text transform="translate(10.5 702) scale(0.83 1)" fill="#000" font-size="13">08:14</text>
<path d="M40 701v-3h1v-2h2v-1h4v1h2v2h1v3z" fill="#ffff00" shape-rendering="crispEdges"/>
<text transform="translate(228.6 702) scale(0.83 1)" fill="#000" font-size="13">01:36</text>
<path d="M217 692h2M221 692h2M217 697h2M221 697h1M217.5 692v2M217.5 696v2M222.5 692v2" stroke="#2222cc" stroke-width="1" fill="none" shape-rendering="crispEdges"/>
<path d="M224.5 693.5l-3.2 5h2v4.3h2.6v-4.3h2z" fill="#ffff00"/>
<path d="M224.3 693.8l-3.2 5" stroke="#000" stroke-width="1" fill="none"/>
<text transform="translate(481.6 702) scale(0.83 1)" fill="#000" font-size="13">08:10</text>
<path d="M515.5 692.3v11M510.3 698h10.6M511.6 694l7.8 7.8M519.4 694l-7.8 7.8" stroke="#ffff88" stroke-width="1.3"/>
<circle cx="515.2" cy="698" r="3.2" fill="#ffff00"/>
<text transform="translate(750.8 702) scale(0.83 1)" fill="#000" font-size="13">13:17</text>
<path d="M742.6 701l3.2 -5h-2v-3.8h-2.6v3.8h-2z" fill="#ffff00"/>
<path d="M744.6 698l-2 3" stroke="#000" stroke-width="1" fill="none"/>
<path d="M745 699.5h2M749 699.5h1M749.5 700v2" stroke="#3344cc" stroke-width="1" fill="none" shape-rendering="crispEdges"/>
<text transform="translate(849.8 702) scale(0.83 1)" fill="#000" font-size="13">16:25</text>
<rect x="880.5" y="695.5" width="5" height="5" fill="#ffffee" stroke="#ffff4d" stroke-width="1" shape-rendering="crispEdges"/>
<rect x="1" y="704" width="1371" height="90" fill="#cdfbf6" shape-rendering="crispEdges"/>
<rect x="1372" y="704" width="1" height="96" fill="#a0a0a0" shape-rendering="crispEdges"/>
<g shape-rendering="crispEdges">
<rect x="88" y="704" width="1" height="89" fill="#9a9a9a"/>
<rect x="87" y="704" width="1" height="89" fill="#ffffff"/>
<rect x="205" y="704" width="1" height="89" fill="#9a9a9a"/>
<rect x="204" y="704" width="1" height="89" fill="#ffffff"/>
<rect x="323" y="704" width="1" height="89" fill="#9a9a9a"/>
<rect x="322" y="704" width="1" height="89" fill="#ffffff"/>
<rect x="441" y="704" width="1" height="89" fill="#9a9a9a"/>
<rect x="440" y="704" width="1" height="89" fill="#ffffff"/>
<rect x="559" y="704" width="1" height="89" fill="#9a9a9a"/>
<rect x="558" y="704" width="1" height="89" fill="#ffffff"/>
<rect x="677" y="704" width="1" height="89" fill="#9a9a9a"/>
<rect x="676" y="704" width="1" height="89" fill="#ffffff"/>
<rect x="795" y="704" width="1" height="89" fill="#9a9a9a"/>
<rect x="794" y="704" width="1" height="89" fill="#ffffff"/>
<rect x="913" y="704" width="1" height="89" fill="#9a9a9a"/>
<rect x="912" y="704" width="1" height="89" fill="#ffffff"/>
</g>
<text x="8.2" y="722" fill="#000" font-size="13" font-weight="bold" textLength="39.4" lengthAdjust="spacingAndGlyphs">Sensor</text>
<text x="8.2" y="738" fill="#000" font-size="13" font-weight="bold" textLength="47.3" lengthAdjust="spacingAndGlyphs">MinWert</text>
<text x="8.2" y="754" fill="#000" font-size="13" font-weight="bold" textLength="50.3" lengthAdjust="spacingAndGlyphs">MaxWert</text>
<text x="8.2" y="770" fill="#000" font-size="13" font-weight="bold" textLength="72.3" lengthAdjust="spacingAndGlyphs">Durchschnitt</text>
<text x="8.2" y="786" fill="#000" font-size="13" font-weight="bold" textLength="72.3" lengthAdjust="spacingAndGlyphs">30.11. 23:55</text>
<text x="94.8" y="722" fill="#000" font-size="13" font-weight="bold" textLength="49.7" lengthAdjust="spacingAndGlyphs">Temp. A.</text>
<text x="185.7" y="722" fill="#000" font-size="13" font-weight="bold" textLength="13.0" lengthAdjust="spacingAndGlyphs">°C</text>
<text x="100.3" y="738" fill="#000" font-size="13" textLength="27.6" lengthAdjust="spacingAndGlyphs">23:55</text>
<text x="180.2" y="738" fill="#000" font-size="13" textLength="18.5" lengthAdjust="spacingAndGlyphs">-4.4</text>
<text x="100.3" y="754" fill="#000" font-size="13" textLength="27.6" lengthAdjust="spacingAndGlyphs">13:10</text>
<text x="180.2" y="754" fill="#000" font-size="13" textLength="18.5" lengthAdjust="spacingAndGlyphs">-1.7</text>
<text x="100.3" y="770" fill="#000" font-size="13" textLength="39.8" lengthAdjust="spacingAndGlyphs">( - 8.17 )</text>
<text x="174.4" y="770" fill="#000" font-size="13" textLength="24.3" lengthAdjust="spacingAndGlyphs">-2.97</text>
<text x="96.9" y="786" fill="#000" font-size="13" textLength="36.0" lengthAdjust="spacingAndGlyphs">F: 84 %</text>
<text x="176.4" y="786" fill="#ff0000" font-size="13" font-weight="bold" textLength="22.3" lengthAdjust="spacingAndGlyphs">-4.4</text>
<text x="212.5" y="722" fill="#000" font-size="13" font-weight="bold" textLength="61.3" lengthAdjust="spacingAndGlyphs">Feuchte A.</text>
<text x="307.5" y="722" fill="#000" font-size="13" font-weight="bold" textLength="8.8" lengthAdjust="spacingAndGlyphs">%</text>
<text x="218.3" y="738" fill="#000" font-size="13" textLength="27.5" lengthAdjust="spacingAndGlyphs">23:25</text>
<text x="304.1" y="738" fill="#000" font-size="13" textLength="12.2" lengthAdjust="spacingAndGlyphs">83</text>
<text x="218.3" y="754" fill="#000" font-size="13" textLength="27.5" lengthAdjust="spacingAndGlyphs">04:00</text>
<text x="304.1" y="754" fill="#000" font-size="13" textLength="11.4" lengthAdjust="spacingAndGlyphs">91</text>
<text x="304.1" y="770" fill="#000" font-size="13" textLength="12.2" lengthAdjust="spacingAndGlyphs">88</text>
<text x="215.3" y="786" fill="#000" font-size="13" textLength="46.5" lengthAdjust="spacingAndGlyphs">2.99 g/m²</text>
<text x="302.8" y="786" fill="#000" font-size="13" font-weight="bold" textLength="13.5" lengthAdjust="spacingAndGlyphs">84</text>
<text x="330.2" y="722" fill="#000" font-size="13" font-weight="bold" textLength="54.0" lengthAdjust="spacingAndGlyphs">Luftdruck</text>
<text x="412.5" y="722" fill="#000" font-size="13" font-weight="bold" textLength="22.1" lengthAdjust="spacingAndGlyphs">hPa</text>
<text x="336.1" y="738" fill="#000" font-size="13" textLength="27.6" lengthAdjust="spacingAndGlyphs">23:55</text>
<text x="401.5" y="738" fill="#000" font-size="13" textLength="33.1" lengthAdjust="spacingAndGlyphs">1008.0</text>
<text x="336.1" y="754" fill="#000" font-size="13" textLength="27.6" lengthAdjust="spacingAndGlyphs">08:50</text>
<text x="401.5" y="754" fill="#000" font-size="13" textLength="33.1" lengthAdjust="spacingAndGlyphs">1011.3</text>
<text x="330.2" y="770" fill="#000" font-size="13" textLength="51.5" lengthAdjust="spacingAndGlyphs">^0.6hPa/h</text>
<text x="401.5" y="770" fill="#000" font-size="13" textLength="32.3" lengthAdjust="spacingAndGlyphs">1010.1</text>
<text x="330.2" y="786" fill="#000" font-size="13" textLength="55.2" lengthAdjust="spacingAndGlyphs">Schnee+ve</text>
<rect x="386" y="777" width="8" height="11" fill="#e6e6e6"/>
<path d="M390 778v8M387 783.5l3 3.5l3 -3.5" stroke="#000" stroke-width="1.6" fill="none"/>
<text x="395.5" y="786" fill="#000" font-size="13" font-weight="bold" textLength="39.1" lengthAdjust="spacingAndGlyphs">1008.0</text>
<text x="448.1" y="722" fill="#000" font-size="13" font-weight="bold" textLength="29.5" lengthAdjust="spacingAndGlyphs">Wind</text>
<text x="523.1" y="722" fill="#000" font-size="13" font-weight="bold" textLength="29.4" lengthAdjust="spacingAndGlyphs">km/h</text>
<text x="448.6" y="738" fill="#000" font-size="13" textLength="43.9" lengthAdjust="spacingAndGlyphs">Ø 10 min.</text>
<text x="537.4" y="738" fill="#000" font-size="13" textLength="15.1" lengthAdjust="spacingAndGlyphs">0.8</text>
<text x="454.5" y="754" fill="#000" font-size="13" textLength="27.3" lengthAdjust="spacingAndGlyphs">14:00</text>
<text x="501.9" y="754" fill="#000" font-size="13" textLength="50.6" lengthAdjust="spacingAndGlyphs">W-SW 6.0</text>
<text x="454.5" y="770" fill="#000" font-size="13" textLength="38" lengthAdjust="spacingAndGlyphs">30.9 km</text>
<text x="537.4" y="770" fill="#000" font-size="13" textLength="15.1" lengthAdjust="spacingAndGlyphs">0.5</text>
<text x="454.5" y="786" fill="#000" font-size="13" textLength="56" lengthAdjust="spacingAndGlyphs">0 Bft W-SW</text>
<text x="534.4" y="786" fill="#000" font-size="13" font-weight="bold" textLength="18.1" lengthAdjust="spacingAndGlyphs">0.0</text>
<text x="566.4" y="722" fill="#000" font-size="13" font-weight="bold" textLength="51.1" lengthAdjust="spacingAndGlyphs">Richtung</text>
<text x="572.4" y="738" fill="#000" font-size="13" textLength="27.1" lengthAdjust="spacingAndGlyphs">23:55</text>
<text x="638.1" y="738" fill="#000" font-size="13" textLength="31.5" lengthAdjust="spacingAndGlyphs">W-SW</text>
<text x="572.4" y="754" fill="#000" font-size="13" textLength="27.1" lengthAdjust="spacingAndGlyphs">22:25</text>
<text x="662.5" y="754" fill="#000" font-size="13" textLength="7.1" lengthAdjust="spacingAndGlyphs">N</text>
<text x="638.1" y="770" fill="#000" font-size="13" textLength="31.5" lengthAdjust="spacingAndGlyphs">W-SW</text>
<text x="569.4" y="786" fill="#000" font-size="13" textLength="25.1" lengthAdjust="spacingAndGlyphs">247 °</text>
<text x="634.1" y="786" fill="#000" font-size="13" font-weight="bold" textLength="35.5" lengthAdjust="spacingAndGlyphs">W-SW</text>
<text x="684.5" y="722" fill="#000" font-size="13" font-weight="bold" textLength="37" lengthAdjust="spacingAndGlyphs">Regen</text>
<text x="766.5" y="722" fill="#000" font-size="13" font-weight="bold" textLength="22.2" lengthAdjust="spacingAndGlyphs">l/m²</text>
<text x="684.5" y="738" fill="#000" font-size="13" textLength="27.3" lengthAdjust="spacingAndGlyphs">0 min.</text>
<text x="690.3" y="754" fill="#000" font-size="13" textLength="27.2" lengthAdjust="spacingAndGlyphs">23:55</text>
<text x="773.5" y="754" fill="#000" font-size="13" textLength="15.2" lengthAdjust="spacingAndGlyphs">0.0</text>
<text x="684.5" y="770" fill="#000" font-size="13" textLength="38.4" lengthAdjust="spacingAndGlyphs">Gesamt:</text>
<text x="773.5" y="770" fill="#000" font-size="13" textLength="15.2" lengthAdjust="spacingAndGlyphs">0.0</text>
<text x="687.3" y="786" fill="#000" font-size="13" textLength="36.2" lengthAdjust="spacingAndGlyphs">0.0 l/m²</text>
<text x="771.4" y="786" fill="#000" font-size="13" font-weight="bold" textLength="18.1" lengthAdjust="spacingAndGlyphs">0.0</text>
<text x="802.5" y="722" fill="#000" font-size="13" textLength="63" lengthAdjust="spacingAndGlyphs">Max. Sonnen</text>
<text x="869.5" y="722" fill="#000" font-size="13" textLength="37" lengthAdjust="spacingAndGlyphs">16,945°</text>
<text x="802.5" y="738" fill="#000" font-size="13" textLength="58" lengthAdjust="spacingAndGlyphs">Sonnen Pos</text>
<text x="866.5" y="738" fill="#000" font-size="13" textLength="40" lengthAdjust="spacingAndGlyphs">-60,010°</text>
<text x="802.5" y="754" fill="#000" font-size="13" textLength="46.3" lengthAdjust="spacingAndGlyphs">Neumond</text>
<text x="864.1" y="754" fill="#000" font-size="13" textLength="42.4" lengthAdjust="spacingAndGlyphs">05.12.10</text>
<text x="802.0" y="770" fill="#000" font-size="13" textLength="43.5" lengthAdjust="spacingAndGlyphs">Vollmond</text>
<text x="864.1" y="770" fill="#000" font-size="13" textLength="42.4" lengthAdjust="spacingAndGlyphs">21.12.10</text>
<text x="802.5" y="786" fill="#000" font-size="13" textLength="56" lengthAdjust="spacingAndGlyphs">Mondphase</text>
<text x="881.5" y="786" fill="#000" font-size="13" textLength="26" lengthAdjust="spacingAndGlyphs">- 27%</text>
<text x="920.2" y="722" fill="#000" font-size="13" textLength="67.7" lengthAdjust="spacingAndGlyphs">Wolkenunterg</text>
<text x="996.2" y="722" fill="#000" font-size="13" textLength="27.0" lengthAdjust="spacingAndGlyphs">351m</text>
<text x="920.2" y="738" fill="#000" font-size="13" textLength="49.3" lengthAdjust="spacingAndGlyphs">Sichtweite</text>
<text x="987.2" y="738" fill="#000" font-size="13" textLength="36.0" lengthAdjust="spacingAndGlyphs">8-14km</text>
<text x="920.2" y="754" fill="#000" font-size="13" textLength="60.0" lengthAdjust="spacingAndGlyphs">Schneefallgr</text>
<text x="1008.2" y="754" fill="#000" font-size="13" textLength="15.0" lengthAdjust="spacingAndGlyphs">0m</text>
<text x="920.2" y="770" fill="#000" font-size="13" textLength="49.3" lengthAdjust="spacingAndGlyphs">Regen/1h</text>
<text x="988.8" y="770" fill="#000" font-size="13" textLength="34.4" lengthAdjust="spacingAndGlyphs">0.0l/m²</text>
<text x="920.2" y="786" fill="#000" font-size="13" textLength="68.5" lengthAdjust="spacingAndGlyphs">Sonnenschein</text>
<text x="996.2" y="786" fill="#000" font-size="13" textLength="27.0" lengthAdjust="spacingAndGlyphs">0:00h</text>
<g shape-rendering="crispEdges">
<rect x="0" y="794" width="1372" height="1" fill="#a0a0a0"/>
<rect x="0" y="795" width="1372" height="1" fill="#ffffff"/>
<rect x="0" y="796" width="1372" height="4" fill="#f4f4f4"/>
<rect x="1" y="796" width="835" height="2" fill="#a0a0a0"/>
<rect x="1" y="796" width="2" height="4" fill="#a0a0a0"/>
<rect x="839" y="796" width="193" height="2" fill="#a0a0a0"/>
<rect x="839" y="796" width="2" height="4" fill="#a0a0a0"/>
<rect x="1035" y="796" width="170" height="2" fill="#a0a0a0"/>
<rect x="1035" y="796" width="2" height="4" fill="#a0a0a0"/>
<rect x="1208" y="796" width="40" height="2" fill="#a0a0a0"/>
<rect x="1208" y="796" width="2" height="4" fill="#a0a0a0"/>
<rect x="1251" y="796" width="50" height="2" fill="#a0a0a0"/>
<rect x="1251" y="796" width="2" height="4" fill="#a0a0a0"/>
<rect x="1304" y="796" width="66" height="2" fill="#a0a0a0"/>
<rect x="1304" y="796" width="2" height="4" fill="#a0a0a0"/>
</g>
</svg>
</body></html>
